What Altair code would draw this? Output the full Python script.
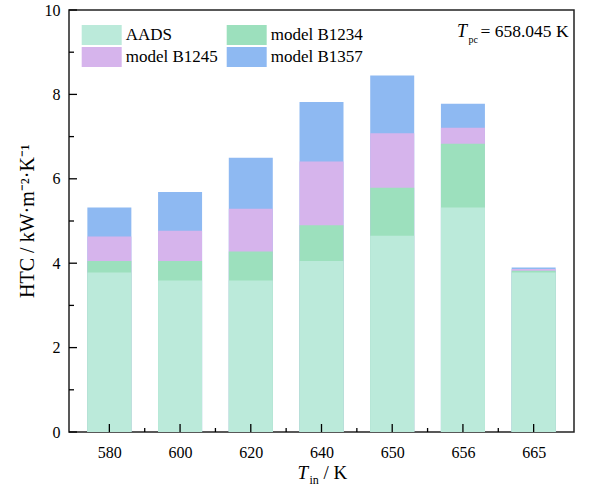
import json

import altair as alt
import pandas as pd

# Inlet temperatures (K) and the four HTC models
temps = ["580", "600", "620", "640", "650", "656", "665"]
series = ["AADS", "model B1234", "model B1245", "model B1357"]
colors = ["#bbeada", "#9ce0bd", "#d6b4ec", "#8eb9f2"]

# Heat transfer coefficient of each model, kW·m-2·K-1
htc_aads = [3.78, 3.59, 3.59, 4.05, 4.65, 5.32, 3.78]
htc_b1234 = [4.05, 4.05, 4.28, 4.90, 5.79, 6.83, 3.82]
htc_b1245 = [4.63, 4.77, 5.29, 6.41, 7.08, 7.21, 3.86]
htc_b1357 = [5.32, 5.69, 6.50, 7.82, 8.45, 7.78, 3.90]

y_major = [0, 2, 4, 6, 8, 10]
y_minor = [1, 3, 5, 7, 9]

FONT = "Liberation Serif"
W, H = 505, 422

values = [htc_aads, htc_b1234, htc_b1245, htc_b1357]
rows = []
# largest model first so that smaller bars are painted over it
for k in reversed(range(len(series))):
    for i, t in enumerate(temps):
        rows.append({"pos": i, "T": t, "model": series[k],
                     "htc": values[k][i], "draw": len(series) - k})
df = pd.DataFrame(rows)

positions = list(range(len(temps)))
midpoints = [i + 0.5 for i in positions[:-1]]

x_scale = alt.Scale(domain=[-0.5, len(temps) - 0.5], nice=False, zero=False)
y_scale = alt.Scale(domain=[0, 10], nice=False)

label_expr = json.dumps(temps) + "[datum.value]"

# legend columns are filled top-to-bottom, so list entries column by column
legend_order = [series[0], series[2], series[1], series[3]]

bars = alt.Chart(df).mark_bar(size=44, orient="vertical").encode(
    x=alt.X("pos:Q", scale=x_scale,
            axis=alt.Axis(values=positions, labelExpr=label_expr, ticks=False,
                          domain=False, grid=False, title=None,
                          labelFont=FONT, labelFontSize=16, labelColor="black",
                          labelPadding=12)),
    y=alt.Y("htc:Q", stack=None, scale=y_scale,
            axis=alt.Axis(values=y_major, ticks=False, domain=False, grid=False,
                          title=None, labelFont=FONT, labelFontSize=16,
                          labelColor="black", labelPadding=9)),
    color=alt.Color("model:N",
                    scale=alt.Scale(domain=series, range=colors),
                    legend=alt.Legend(title=None, orient="none", legendX=22.7,
                                      legendY=15, columns=2, padding=0,
                                      values=legend_order,
                                      symbolType="M-2,-1H2V1H-2Z", symbolSize=400,
                                      symbolStrokeWidth=0, symbolOpacity=1,
                                      labelFont=FONT, labelFontSize=17,
                                      labelColor="black", labelOffset=14,
                                      columnPadding=8, rowPadding=2)),
    order=alt.Order("draw:Q"),
)

# inward ticks on the left axis
ytick_major = alt.Chart(pd.DataFrame({"v": y_major})).mark_rule(
    color="black", strokeWidth=1.3).encode(
    y=alt.Y("v:Q", scale=y_scale), x=alt.value(0), x2=alt.value(8))
ytick_minor = alt.Chart(pd.DataFrame({"v": y_minor})).mark_rule(
    color="black", strokeWidth=1.3).encode(
    y=alt.Y("v:Q", scale=y_scale), x=alt.value(0), x2=alt.value(5))

# inward ticks on the bottom axis: at each bar and between neighbours
xtick_major = alt.Chart(pd.DataFrame({"p": positions})).mark_rule(
    color="black", strokeWidth=1.3).encode(
    x=alt.X("p:Q", scale=x_scale), y=alt.value(H), y2=alt.value(H - 8))
xtick_minor = alt.Chart(pd.DataFrame({"p": midpoints})).mark_rule(
    color="black", strokeWidth=1.3).encode(
    x=alt.X("p:Q", scale=x_scale), y=alt.value(H), y2=alt.value(H - 4))


def label(text, x, y, size, style="normal", angle=0, align="left",
          baseline="alphabetic"):
    return alt.Chart(pd.DataFrame({"t": [text]})).mark_text(
        font=FONT, fontSize=size, fontStyle=style, color="black",
        align=align, baseline=baseline, angle=angle).encode(
        text="t:N", x=alt.value(x), y=alt.value(y))


annotations = [
    # pseudo-critical temperature
    label("T", 388, 27.3, 18, style="italic"),
    label("pc", 399.5, 33.0, 10),
    label("= 658.045 K", 411.5, 27.3, 17.5),
    # x axis title
    label("T", 228.5, 469, 19, style="italic"),
    label("in", 240.5, 474, 12),
    label("/ K", 254.5, 469, 19),
    # y axis title
    label("HTC / kW·m⁻²·K⁻¹", -41, 211, 20, angle=270, align="center",
          baseline="middle"),
]

chart = alt.layer(
    bars, ytick_major, ytick_minor, xtick_major, xtick_minor, *annotations
).properties(
    width=W, height=H, autosize="none",
    padding={"left": 69, "top": 10, "right": 33, "bottom": 55},
).configure_view(stroke="#222222", strokeWidth=1.5)

chart.save("out.html", embed_options={"renderer": "svg", "actions": False})
